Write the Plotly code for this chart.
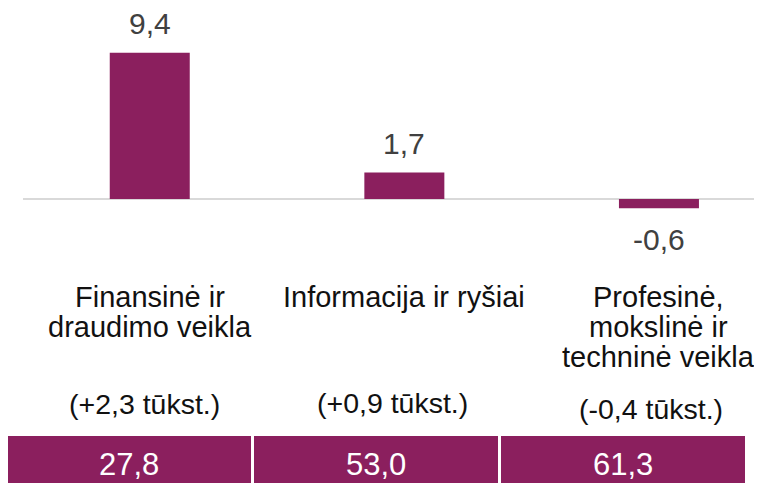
import plotly.graph_objects as go

# ---- data ----
categories = ["Finansinė ir<br>draudimo veikla", "Informacija ir ryšiai",
              "Profesinė,<br>mokslinė ir<br>techninė veikla"]
changes = [9.4, 1.7, -0.6]
change_labels = ["9,4", "1,7", "-0,6"]
abs_changes = ["(+2,3 tūkst.)", "(+0,9 tūkst.)", "(-0,4 tūkst.)"]
box_values = [27.8, 53.0, 61.3]

# ---- style / layout ----
OFF = 8                      # page body margin
W, H = 762 - OFF, 483 - OFF  # figure size
BAR = "#8B1F5E"
FONT = "Liberation Sans, Arial, sans-serif"
PX_PER_CAT = 254.6
X0_PX = 149.75 - OFF
PX_PER_UNIT = 15.56
ZERO_PX = 199 - OFF

xr0 = -X0_PX / PX_PER_CAT
xr1 = xr0 + W / PX_PER_CAT
yr1 = ZERO_PX / PX_PER_UNIT
yr0 = yr1 - H / PX_PER_UNIT


def py(p):
    return 1 - (p - OFF) / H


def px(p):
    return max(0.0, (p - OFF) / W)


def fmt(v):
    return f"{v:.1f}".replace(".", ",")


fig = go.Figure()
fig.add_trace(go.Bar(
    x=list(range(len(changes))), y=changes, width=80 / PX_PER_CAT,
    marker=dict(color=BAR, line=dict(width=0)), hoverinfo="skip"))

shapes = [dict(type="line", xref="x", yref="y",
               x0=xr0 + (23 - OFF) / PX_PER_CAT, x1=xr1, y0=0, y1=0,
               line=dict(color="#D9D9D9", width=2), layer="below")]
ann = []
for i, (v, lab) in enumerate(zip(changes, change_labels)):
    ann.append(dict(x=i, y=v, xref="x", yref="y", text=lab, showarrow=False,
                    xanchor="center", yanchor="middle",
                    yshift=29 if v >= 0 else -31,
                    font=dict(size=30, color="#404040", family=FONT)))

line_y = [296.5, 326.5, 356.5]
paren_y = [404, 403, 409]
paren_x = [144, 392, 651]
for i, cat in enumerate(categories):
    for j, line in enumerate(cat.split("<br>")):
        ann.append(dict(x=i, y=py(line_y[j]), xref="x", yref="paper", text=line,
                        showarrow=False, xanchor="center", yanchor="middle",
                        font=dict(size=29, color="#111111", family=FONT)))
    ann.append(dict(x=px(paren_x[i]), y=py(paren_y[i]), xref="paper",
                    yref="paper", text=abs_changes[i], showarrow=False,
                    xanchor="center", yanchor="middle",
                    font=dict(size=28.5, color="#111111", family=FONT)))

for i, v in enumerate(box_values):
    x0 = 7 + 247 * i
    shapes.append(dict(type="rect", xref="paper", yref="paper",
                       x0=px(x0), x1=px(x0 + 244), y0=py(483), y1=py(436),
                       fillcolor=BAR, line=dict(width=0)))
    ann.append(dict(x=px(x0 + 122), y=py(464), xref="paper", yref="paper",
                    text=fmt(v), showarrow=False, xanchor="center",
                    yanchor="middle",
                    font=dict(size=31, color="white", family=FONT)))

fig.update_layout(
    width=W, height=H, margin=dict(l=0, r=0, t=0, b=0),
    paper_bgcolor="white", plot_bgcolor="white", showlegend=False,
    xaxis=dict(range=[xr0, xr1], visible=False, fixedrange=True),
    yaxis=dict(range=[yr0, yr1], visible=False, fixedrange=True),
    shapes=shapes, annotations=ann,
)

fig.write_html("out.html")
